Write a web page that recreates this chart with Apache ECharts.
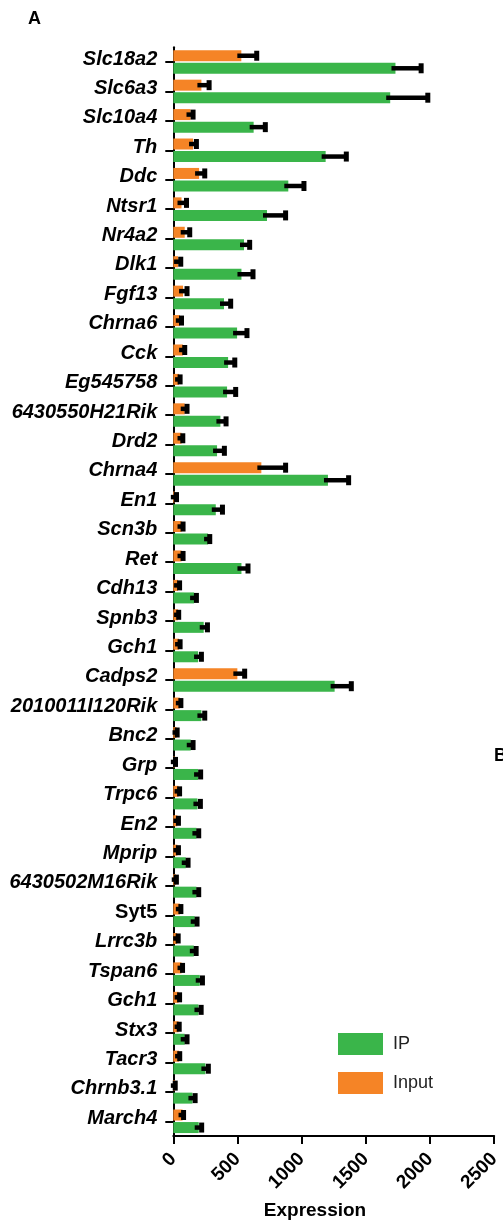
<!DOCTYPE html>
<html>
<head>
<meta charset="utf-8">
<script src="https://cdn.jsdelivr.net/npm/echarts@6/dist/echarts.min.js"></script>
<style>
html,body{margin:0;padding:0;background:#fff;}
#chart{width:503px;height:1222px;}
</style>
</head>
<body>
<div id="chart"></div>
<script>
const categories = ['Slc18a2','Slc6a3','Slc10a4','Th','Ddc','Ntsr1','Nr4a2','Dlk1','Fgf13','Chrna6','Cck','Eg545758','6430550H21Rik','Drd2','Chrna4','En1','Scn3b','Ret','Cdh13','Spnb3','Gch1','Cadps2','2010011I120Rik','Bnc2','Grp','Trpc6','En2','Mprip','6430502M16Rik','Syt5','Lrrc3b','Tspan6','Gch1','Stx3','Tacr3','Chrnb3.1','March4'];
const uprightLabels = ['Syt5'];
const ipValues = [1731,1690,626,1187,896,730,551,531,395,497,427,419,367,341,1205,331,271,531,162,237,193,1257,219,136,193,188,180,97,180,167,160,206,196,89,250,149,198];
const ipErr = [200,293,91,161,122,145,44,90,52,77,52,67,44,57,161,52,13,51,18,29,26,130,26,18,20,23,18,18,18,18,18,21,21,18,23,21,23];
const inputValues = [530,219,134,154,201,64,89,37,76,51,76,45,89,64,686,12,64,64,37,37,45,499,51,25,12,41,32,32,19,51,30,64,41,41,45,12,72];
const inputErr = [120,60,20,26,44,39,39,21,31,13,13,8,18,10,189,13,12,12,12,5,8,57,8,5,5,8,8,8,5,8,8,8,8,5,5,3,8];
const xTicks = {min: 0, max: 2500, interval: 500};

const FONT = "'Liberation Sans', Arial, Helvetica, sans-serif";
const GREEN = '#3ab54a';
const ORANGE = '#f58426';

function errRender(offset) {
  return function (params, api) {
    const cat = api.value(0), m = api.value(1), e = api.value(2);
    const p0 = api.coord([m, cat]);
    const p1 = api.coord([m + e, cat]);
    const y = p0[1] + offset;
    return {
      type: 'group',
      children: [
        {type: 'rect', shape: {x: p0[0] - 4, y: y - 2.25, width: p1[0] - p0[0] + 4, height: 4.5}, style: {fill: '#000'}},
        {type: 'rect', shape: {x: p1[0] - 2.5, y: y - 5, width: 5, height: 10}, style: {fill: '#000'}}
      ]
    };
  };
}

const chart = echarts.init(document.getElementById('chart'));
chart.setOption({
  animation: false,
  backgroundColor: '#fff',
  textStyle: {fontFamily: FONT},
  grid: {left: 173.3, top: 47.3, right: 8, bottom: 86, containLabel: false},
  legend: {
    data: ['IP', 'Input'],
    orient: 'vertical',
    left: 333, top: 1028,
    itemWidth: 45, itemHeight: 22, itemGap: 17,
    icon: 'rect',
    selectedMode: false,
    textStyle: {fontSize: 18, color: '#222', fontFamily: FONT, padding: [0, 0, 0, 5]}
  },
  xAxis: {
    type: 'value',
    min: xTicks.min, max: xTicks.max, interval: xTicks.interval,
    splitLine: {show: false},
    axisLine: {show: true, lineStyle: {color: '#000', width: 2}},
    axisTick: {show: true, length: 8, lineStyle: {color: '#000', width: 2}},
    axisLabel: {rotate: 45, fontSize: 19, fontWeight: 'bold', color: '#000', margin: 20, fontFamily: FONT,
      formatter: function (v) { return String(v); }}
  },
  yAxis: {
    type: 'category',
    inverse: true,
    data: categories.map((c, i) => i),
    axisLine: {show: true, lineStyle: {color: '#000', width: 2}},
    axisTick: {show: true, length: 8, alignWithLabel: true, lineStyle: {color: '#000', width: 2}},
    axisLabel: {
      interval: 0,
      fontSize: 20, fontWeight: 'bold', fontStyle: 'italic', color: '#000', margin: 16,
      fontFamily: FONT,
      padding: [0, 0, 6, 0],
      formatter: function (v, idx) {
        const name = categories[idx];
        return uprightLabels.indexOf(name) >= 0 ? '{n|' + name + '}' : name;
      },
      rich: {n: {fontStyle: 'normal', fontWeight: 'bold', fontSize: 20, color: '#000', fontFamily: FONT}}
    }
  },
  series: [
    {name: 'Input', type: 'bar', data: inputValues, barWidth: 11, barGap: '14%', itemStyle: {color: ORANGE}},
    {name: 'IP', type: 'bar', data: ipValues, barWidth: 11, barGap: '14%', itemStyle: {color: GREEN}},
    {name: 'Input err', type: 'custom', renderItem: errRender(-6.27), encode: {x: [1], y: [0]},
     data: inputValues.map((v, i) => [i, v, inputErr[i]]), z: 10},
    {name: 'IP err', type: 'custom', renderItem: errRender(6.27), encode: {x: [1], y: [0]},
     data: ipValues.map((v, i) => [i, v, ipErr[i]]), z: 10}
  ],
  graphic: [
    {type: 'text', left: 28, top: 10, style: {text: 'A', fontSize: 18, fontWeight: 'bold', fill: '#000', fontFamily: FONT}},
    {type: 'text', left: 494, top: 747, style: {text: 'B', fontSize: 18, fontWeight: 'bold', fill: '#000', fontFamily: FONT}},
    {type: 'text', x: 315, y: 1201, style: {text: 'Expression', fontSize: 19, fontWeight: 'bold', fill: '#000', fontFamily: FONT, align: 'center', verticalAlign: 'top'}}
  ]
});
</script>
</body>
</html>
